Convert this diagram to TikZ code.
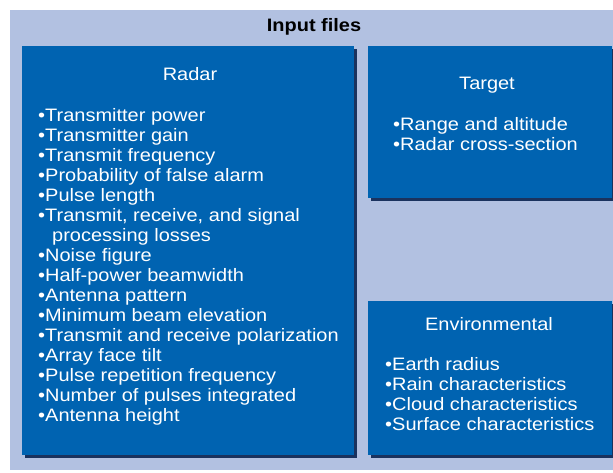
\documentclass[tikz,border=0pt]{standalone}
\usepackage{fontspec}
\setmainfont[FakeStretch=1.11]{Liberation Sans}
\usetikzlibrary{positioning,shadows,calc}

\definecolor{panelblue}{RGB}{178,193,225}
\definecolor{boxblue}{RGB}{0,99,177}
\definecolor{shadowblue}{RGB}{10,35,80}

\tikzset{
  panel/.style={fill=panelblue, inner sep=0pt, minimum width=603pt, minimum height=460pt},
  filebox/.style={fill=boxblue, inner sep=0pt,
    drop shadow={shadow xshift=2.5pt, shadow yshift=-3pt, fill=shadowblue, opacity=.9}},
  head/.style={text=white, font=\fontsize{18}{20}\selectfont, inner sep=0pt, anchor=north},
  items/.style={text=white, font=\fontsize{18}{20}\selectfont, align=left, inner sep=0pt, anchor=north west},
}

\begin{document}
\begin{tikzpicture}[x=1pt,y=-1pt]
\useasboundingbox (0,0) rectangle (613,473);

% Background panel and title
    \node[panel] (files) at (311.5,240) {};
    \node[font=\bfseries\fontsize{18}{20}\selectfont, inner sep=0pt] (title) at (314,27) {Input files};

% Radar
    \node[filebox, minimum width=332pt, minimum height=409pt] (radar) at (188,250.5) {};
    \node[head] (radarhead) at (190,67) {Radar};
    \node[items] (radarlist) at (38,108) {%
      •Transmitter power\\
      •Transmitter gain\\
      •Transmit frequency\\
      •Probability of false alarm\\
      •Pulse length\\
      •Transmit, receive, and signal\\
      \hspace*{14pt}processing losses\\
      •Noise figure\\
      •Half-power beamwidth\\
      •Antenna pattern\\
      •Minimum beam elevation\\
      •Transmit and receive polarization\\
      •Array face tilt\\
      •Pulse repetition frequency\\
      •Number of pulses integrated\\
      •Antenna height};

% Target
    \node[filebox, minimum width=244pt, minimum height=152pt] (target) at (490,122) {};
    \node[head] (targethead) at (487,77) {Target};
    \node[items] (targetlist) at (393,117) {%
      •Range and altitude\\
      •Radar cross-section};

% Environmental
    \node[filebox, minimum width=244pt, minimum height=154pt] (env) at (490,378) {};
    \node[head] (envhead) at (489,317) {Environmental};
    \node[items] (envlist) at (385,357) {%
      •Earth radius\\
      •Rain characteristics\\
      •Cloud characteristics\\
      •Surface characteristics};

\end{tikzpicture}
\end{document}
